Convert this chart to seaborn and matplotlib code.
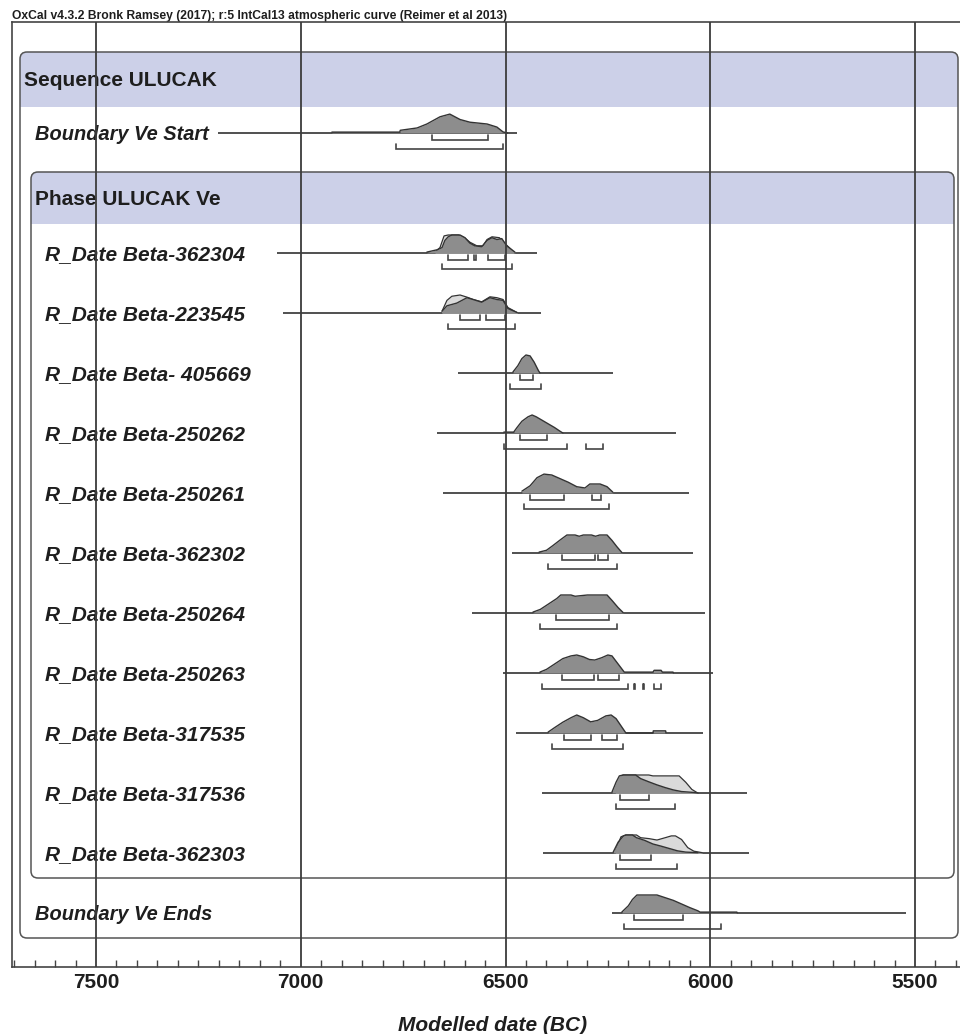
import numpy as np
import pandas as pd
import seaborn as sns
import matplotlib
matplotlib.use("Agg")
import matplotlib.pyplot as plt
from matplotlib.patches import FancyBboxPatch, Rectangle

# ---------------- data (years BC, relative heights) ----------------
title = "OxCal v4.3.2 Bronk Ramsey (2017); r:5 IntCal13 atmospheric curve (Reimer et al 2013)"
sequence_name = "Sequence ULUCAK"
phase_name = "Phase ULUCAK Ve"
x_label = "Modelled date (BC)"

labels = ["Boundary Ve Start", "R_Date Beta-362304", "R_Date Beta-223545",
          "R_Date Beta- 405669", "R_Date Beta-250262", "R_Date Beta-250261",
          "R_Date Beta-362302", "R_Date Beta-250264", "R_Date Beta-250263",
          "R_Date Beta-317535", "R_Date Beta-317536", "R_Date Beta-362303",
          "Boundary Ve Ends"]

range_start = [7202, 7058, 7043, 6616, 6667, 6653, 6484, 6582, 6506, 6474, 6411, 6408, 6240]
range_end = [6472, 6423, 6413, 6238, 6084, 6052, 6042, 6013, 5994, 6018, 5911, 5906, 5522]

start_post = [(6924, 0.05), (6758, 0.05), (6757, 0.15), (6716, 0.28), (6692, 0.5), (6660, 0.9),
              (6636, 1.05), (6611, 0.75), (6587, 0.6), (6545, 0.5), (6521, 0.33), (6506, 0.06), (6495, 0)]
b362304_post = [(6692, 0.05), (6667, 0.18), (6655, 0.3), (6648, 0.7), (6640, 0.9), (6631, 1.0),
                (6611, 1.0), (6599, 0.85), (6587, 0.55), (6575, 0.4), (6558, 0.35), (6545, 0.7),
                (6533, 0.85), (6521, 0.75), (6509, 0.8), (6497, 0.4), (6477, 0.05)]
b362304_like = [(6672, 0.05), (6660, 0.3), (6650, 0.95), (6640, 1.0), (6615, 1.0), (6600, 0.85),
                (6587, 0.6), (6570, 0.4), (6555, 0.4), (6545, 0.75), (6533, 0.9), (6515, 0.85),
                (6500, 0.5), (6480, 0.05)]
b223545_post = [(6655, 0.1), (6643, 0.4), (6619, 0.55), (6594, 0.85), (6579, 0.75), (6558, 0.6),
                (6538, 0.85), (6521, 0.75), (6506, 0.7), (6494, 0.25), (6472, 0.03)]
b223545_like = [(6655, 0.1), (6643, 0.7), (6631, 0.93), (6611, 1.0), (6594, 0.88), (6579, 0.75),
                (6558, 0.62), (6538, 0.9), (6521, 0.85), (6506, 0.75), (6494, 0.3), (6472, 0.03)]
b405669_post = [(6482, 0.05), (6470, 0.4), (6460, 0.8), (6450, 1.0), (6440, 0.95), (6430, 0.6),
                (6420, 0.15), (6416, 0)]
b250262_post = [(6504, 0.05), (6480, 0.05), (6472, 0.3), (6460, 0.65), (6445, 0.9), (6435, 1.0),
                (6425, 0.9), (6410, 0.7), (6395, 0.5), (6380, 0.3), (6367, 0.1), (6360, 0)]
b250261_post = [(6460, 0.1), (6440, 0.4), (6423, 0.85), (6406, 1.05), (6387, 1.0), (6367, 0.8),
                (6347, 0.6), (6326, 0.35), (6306, 0.28), (6294, 0.5), (6269, 0.5), (6252, 0.35),
                (6238, 0.05)]
b362302_post = [(6418, 0.05), (6400, 0.15), (6385, 0.4), (6365, 0.75), (6350, 1.0), (6330, 1.0),
                (6320, 0.93), (6310, 1.0), (6290, 1.0), (6280, 0.93), (6270, 1.0), (6252, 1.0),
                (6240, 0.7), (6228, 0.35), (6216, 0.03)]
b250264_post = [(6433, 0.05), (6415, 0.2), (6395, 0.5), (6375, 0.8), (6365, 1.0), (6340, 1.0),
                (6330, 0.93), (6300, 1.0), (6252, 1.0), (6240, 0.7), (6225, 0.3), (6213, 0.03)]
b250263_post = [(6416, 0.05), (6400, 0.2), (6380, 0.5), (6360, 0.8), (6340, 0.95), (6326, 1.0),
                (6310, 0.9), (6295, 0.75), (6282, 0.72), (6265, 0.85), (6250, 1.0), (6240, 0.95),
                (6225, 0.5), (6210, 0.05), (6140, 0.05), (6137, 0.15), (6120, 0.15), (6117, 0.05),
                (6091, 0.05), (6090, 0)]
b317535_post = [(6396, 0.05), (6380, 0.3), (6360, 0.6), (6340, 0.85), (6326, 1.0), (6310, 0.85),
                (6292, 0.62), (6275, 0.7), (6255, 0.95), (6242, 1.0), (6230, 0.8), (6215, 0.3),
                (6206, 0.0), (6140, 0.0), (6139, 0.12), (6109, 0.12), (6108, 0.0)]
b317536_post = [(6240, 0.05), (6230, 0.6), (6222, 0.95), (6213, 1.0), (6182, 1.0), (6170, 0.8),
                (6150, 0.62), (6130, 0.45), (6110, 0.3), (6090, 0.17), (6070, 0.08), (6040, 0.03),
                (6030, 0)]
b317536_like = [(6232, 0.1), (6220, 0.8), (6213, 1.0), (6150, 1.0), (6140, 0.95), (6076, 0.95),
                (6060, 0.6), (6045, 0.2), (6032, 0.02)]
b362303_post = [(6237, 0.05), (6225, 0.6), (6212, 0.95), (6206, 1.0), (6190, 1.0), (6180, 0.85),
                (6160, 0.7), (6140, 0.5), (6120, 0.38), (6100, 0.25), (6080, 0.12), (6060, 0.05),
                (6030, 0.02)]
b362303_like = [(6232, 0.1), (6218, 0.9), (6206, 1.0), (6180, 1.0), (6170, 0.85), (6150, 0.8),
                (6130, 0.72), (6110, 0.85), (6095, 0.95), (6085, 0.95), (6070, 0.75), (6055, 0.3),
                (6040, 0.1), (6020, 0.02)]
ends_post = [(6216, 0.05), (6200, 0.4), (6190, 0.75), (6179, 1.0), (6130, 1.0), (6110, 0.85),
             (6090, 0.7), (6070, 0.5), (6050, 0.3), (6030, 0.12), (6025, 0.05), (5935, 0.05), (5934, 0)]

posteriors = [start_post, b362304_post, b223545_post, b405669_post, b250262_post, b250261_post,
              b362302_post, b250264_post, b250263_post, b317535_post, b317536_post, b362303_post,
              ends_post]
likelihoods = [None, b362304_like, b223545_like, None, None, None, None, None, None, None,
               b317536_like, b362303_like, None]

hpd68 = [[(6679, 6543)], [(6640, 6592), (6577, 6572), (6543, 6501)], [(6611, 6562), (6548, 6501)],
         [(6465, 6433)], [(6465, 6399)], [(6440, 6357), (6289, 6267)], [(6362, 6282), (6274, 6250)],
         [(6377, 6247)], [(6362, 6284), (6274, 6223)], [(6357, 6291), (6264, 6228)],
         [(6220, 6150)], [(6220, 6145)], [(6186, 6067)]]
hpd95 = [[(6767, 6506)], [(6655, 6484)], [(6640, 6477)], [(6489, 6413)],
         [(6504, 6350), (6303, 6262)], [(6455, 6247)], [(6396, 6228)], [(6416, 6228)],
         [(6411, 6201), (6187, 6184), (6165, 6162), (6137, 6120)], [(6386, 6213)],
         [(6230, 6086)], [(6230, 6081)], [(6211, 5974)]]

major_ticks = [7500, 7000, 6500, 6000, 5500]
minor_ticks = list(range(7700, 5350, -50))

# ---------------- layout ----------------
sns.set_theme(style="white")
plt.rcParams['font.family'] = ['Liberation Sans', 'DejaVu Sans']

W, H = 960, 1034
fig = plt.figure(figsize=(W / 100, H / 100), dpi=100)

BAND = "#ccd0e8"
EDGE = "#555555"
GRID = "#3c3c3c"
DARK = "#8d8d8d"
LIGHT = "#dadada"
OUT = "#333333"
TXT = "#1e1e1e"

# background axes in pixel coordinates
bg = fig.add_axes([0, 0, 1, 1])
bg.set_xlim(0, W)
bg.set_ylim(H, 0)
bg.axis("off")

seq_box = FancyBboxPatch((20, 52), 938, 886, boxstyle="round,pad=0,rounding_size=7",
                         facecolor="none", edgecolor=EDGE, lw=1.1, zorder=3)
bg.add_patch(seq_box)
band1 = Rectangle((20, 52), 960, 55, facecolor=BAND, edgecolor="none", zorder=1)
bg.add_patch(band1)
band1.set_clip_path(seq_box)

ph_box = FancyBboxPatch((31, 172), 923, 706, boxstyle="round,pad=0,rounding_size=7",
                        facecolor="none", edgecolor=EDGE, lw=1.1, zorder=3)
bg.add_patch(ph_box)
band2 = Rectangle((31, 172), 923, 52, facecolor=BAND, edgecolor="none", zorder=1)
bg.add_patch(band2)
band2.set_clip_path(ph_box)

row_k = [0, 2, 3, 4, 5, 6, 7, 8, 9, 10, 11, 12, 13]
bases = [133 + 60 * k for k in row_k]

FS = 15
bg.text(24, 79 + 7, sequence_name, fontsize=FS, fontweight="bold", color=TXT,
        va="baseline", ha="left", zorder=4)
bg.text(35, 198 + 7, phase_name, fontsize=FS, fontweight="bold", color=TXT,
        va="baseline", ha="left", zorder=4)
for i, lab in enumerate(labels):
    is_boundary = lab.startswith("Boundary")
    xx = 35 if is_boundary else 45
    bg.text(xx, bases[i] + 7.5, lab, fontsize=14.4 if is_boundary else FS, fontweight="bold",
            fontstyle="italic", color=TXT, va="baseline", ha="left", zorder=4)

bg.text(12, 19, title, fontsize=8.7, fontweight="bold", color=TXT, va="baseline",
        ha="left", zorder=4)
bg.text(493, 1031, x_label, fontsize=FS, fontweight="bold", fontstyle="italic",
        color=TXT, va="baseline", ha="center", zorder=4)

# data axes: x in years BC (reversed), y in pixel rows
def px_to_bc(px):
    return 7500 - (px - 96) / 0.4095

ax = fig.add_axes([12 / W, (H - 967) / H, (W - 12) / W, (967 - 22) / H])
ax.set_zorder(5)
ax.patch.set_alpha(0)
ax.set_xlim(px_to_bc(12), px_to_bc(W))
ax.set_ylim(967, 22)

HEIGHT = 18.0
for i in range(len(labels)):
    base = bases[i]
    ax.plot([range_start[i], range_end[i]], [base, base], color="#505050", lw=1.4, zorder=2,
            solid_capstyle="butt")
    like = likelihoods[i]
    if like is not None:
        d = pd.DataFrame(like, columns=["bc", "h"])
        ax.fill_between(d["bc"], base, base - d["h"] * HEIGHT, color=LIGHT, zorder=3, lw=0)
        sns.lineplot(x=d["bc"].values, y=(base - d["h"] * HEIGHT).values, ax=ax, sort=False,
                     estimator=None, color=OUT, lw=0.9, zorder=4)
    d = pd.DataFrame(posteriors[i], columns=["bc", "h"])
    ax.fill_between(d["bc"], base, base - d["h"] * HEIGHT, color=DARK, zorder=5, lw=0)
    sns.lineplot(x=d["bc"].values, y=(base - d["h"] * HEIGHT).values, ax=ax, sort=False,
                 estimator=None, color=OUT, lw=1.0, zorder=6)
    for (lvl, off) in ((hpd68[i], 7), (hpd95[i], 16)):
        for a, b in lvl:
            ax.plot([a, a, b, b], [base + off - 5, base + off, base + off, base + off - 5],
                    color="#444444", lw=1.2, zorder=6, solid_joinstyle="miter")

for t in major_ticks:
    ax.axvline(t, color=GRID, lw=1.3, zorder=10)

ax.set_xticks(major_ticks)
ax.set_xticklabels([str(t) for t in major_ticks], fontsize=FS, fontweight="bold", color=TXT)
ax.set_xticks([t for t in minor_ticks if t not in major_ticks], minor=True)
ax.tick_params(axis="x", which="major", direction="in", length=0, pad=4, bottom=True)
ax.tick_params(axis="x", which="minor", direction="in", length=5, width=1.0, color="#444444",
               bottom=True)
ax.set_yticks([])
for s in ["left", "top", "bottom"]:
    ax.spines[s].set_visible(True)
    ax.spines[s].set_color("#444444")
    ax.spines[s].set_linewidth(1.2)
ax.spines["right"].set_visible(False)
ax.set_xlabel("")
ax.set_ylabel("")

fig.savefig("out.png", dpi=100)
